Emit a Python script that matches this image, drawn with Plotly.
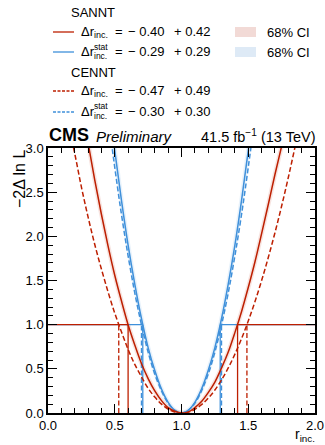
import plotly.graph_objects as go

# ---------------- data ----------------
x_sannt = [0.25, 0.30, 0.35, 0.40, 0.45, 0.50, 0.55, 0.60, 0.65, 0.70, 0.75, 0.80, 0.85, 0.90, 0.95, 1.00,
           1.05, 1.10, 1.15, 1.20, 1.25, 1.30, 1.35, 1.40, 1.45, 1.50, 1.55, 1.60, 1.65, 1.70, 1.75, 1.80]
y_sannt = [3.52, 3.06, 2.64, 2.25, 1.89, 1.56, 1.27, 1.00, 0.77, 0.56, 0.39, 0.25, 0.14, 0.06, 0.02, 0.00,
           0.01, 0.06, 0.13, 0.23, 0.35, 0.51, 0.69, 0.91, 1.15, 1.42, 1.71, 2.03, 2.36, 2.70, 3.02, 3.35]

x_sannt_stat = [0.40, 0.45, 0.50, 0.55, 0.60, 0.65, 0.70, 0.75, 0.80, 0.85, 0.90, 0.95, 1.00,
                1.05, 1.10, 1.15, 1.20, 1.25, 1.30, 1.35, 1.40, 1.45, 1.50, 1.55, 1.60]
y_sannt_stat = [4.28, 3.60, 2.97, 2.41, 1.90, 1.46, 1.07, 0.74, 0.48, 0.27, 0.12, 0.03, 0.00,
                0.03, 0.12, 0.27, 0.48, 0.74, 1.07, 1.46, 1.90, 2.41, 2.97, 3.60, 4.28]

x_cennt = [0.10, 0.15, 0.20, 0.25, 0.30, 0.35, 0.40, 0.45, 0.50, 0.55, 0.60, 0.65, 0.70, 0.75, 0.80, 0.85, 0.90, 0.95, 1.00,
           1.05, 1.10, 1.15, 1.20, 1.25, 1.30, 1.35, 1.40, 1.45, 1.50, 1.55, 1.60, 1.65, 1.70, 1.75, 1.80, 1.85, 1.90]
y_cennt = [3.67, 3.29, 2.94, 2.56, 2.22, 1.91, 1.63, 1.37, 1.13, 0.92, 0.72, 0.55, 0.41, 0.28, 0.18, 0.10, 0.045, 0.011, 0.00,
           0.010, 0.042, 0.094, 0.167, 0.260, 0.375, 0.510, 0.666, 0.843, 1.041, 1.260, 1.499, 1.760, 2.041, 2.343, 2.666, 3.01, 3.37]

x_cennt_stat = [0.40, 0.45, 0.50, 0.55, 0.60, 0.65, 0.70, 0.75, 0.80, 0.85, 0.90, 0.95, 1.00,
                1.05, 1.10, 1.15, 1.20, 1.25, 1.30, 1.35, 1.40, 1.45, 1.50, 1.55, 1.60]
y_cennt_stat = [4.00, 3.36, 2.78, 2.25, 1.78, 1.36, 1.00, 0.69, 0.44, 0.25, 0.11, 0.03, 0.00,
                0.03, 0.11, 0.25, 0.44, 0.69, 1.00, 1.36, 1.78, 2.25, 2.78, 3.36, 4.00]

# 1-sigma crossing points (lower, upper)
cross_sannt = [0.60, 1.42]
cross_sannt_stat = [0.71, 1.29]
cross_cennt = [0.53, 1.49]
cross_cennt_stat = [0.70, 1.30]

legend_groups = ["SANNT", "CENNT"]
legend_lo = ["\u2212 0.40", "\u2212 0.29", "\u2212 0.47", "\u2212 0.30"]
legend_hi = ["+ 0.42", "+ 0.29", "+ 0.49", "+ 0.30"]

x_range = [0.0, 2.0]
y_range = [0.0, 3.0]
y_level = 1.0

RED = "#bd1f01"
BLUE = "#3f90da"
RED_BAND = "rgba(189,31,1,0.12)"
BLUE_BAND = "rgba(63,144,218,0.12)"
FONT = "Liberation Sans, Arial, sans-serif"
DASH = "5px,2.5px"

W, H = 325, 445
ML, MR, MT, MB = 48, 10, 148, 32
PW, PH = W - ML - MR, H - MT - MB


def px(x):
    return (x - ML) / PW


def py(y):
    return (H - MB - y) / PH


fig = go.Figure()

# CI bands (halo around the solid curves)
fig.add_trace(go.Scatter(x=x_sannt_stat, y=y_sannt_stat, mode="lines", line=dict(color=BLUE_BAND, width=4.5, shape="spline"),
                         showlegend=False, hoverinfo="skip"))
fig.add_trace(go.Scatter(x=x_sannt, y=y_sannt, mode="lines", line=dict(color=RED_BAND, width=4.5, shape="spline"),
                         showlegend=False, hoverinfo="skip"))

# horizontal line at 1 (blue first, red on top)
for lo, hi, col in [(cross_sannt_stat[0], cross_sannt_stat[1], BLUE), (cross_sannt[0], cross_sannt[1], RED)]:
    fig.add_trace(go.Scatter(x=[x_range[0], lo], y=[y_level, y_level], mode="lines", line=dict(color=col, width=1.3),
                             showlegend=False, hoverinfo="skip"))
    fig.add_trace(go.Scatter(x=[hi, x_range[1]], y=[y_level, y_level], mode="lines", line=dict(color=col, width=1.3),
                             showlegend=False, hoverinfo="skip"))

# vertical drop lines
for cr, col, dash in [(cross_cennt_stat, BLUE, DASH), (cross_sannt_stat, BLUE, "solid"),
                      (cross_cennt, RED, DASH), (cross_sannt, RED, "solid")]:
    for c in cr:
        fig.add_trace(go.Scatter(x=[c, c], y=[0, y_level], mode="lines", line=dict(color=col, width=1.3, dash=dash),
                                 showlegend=False, hoverinfo="skip"))

# curves
for xs, ys, col, dash in [(x_cennt_stat, y_cennt_stat, BLUE, DASH), (x_sannt_stat, y_sannt_stat, BLUE, "solid"),
                          (x_cennt, y_cennt, RED, DASH), (x_sannt, y_sannt, RED, "solid")]:
    fig.add_trace(go.Scatter(x=xs, y=ys, mode="lines", line=dict(color=col, width=1.5, dash=dash, shape="spline"),
                             showlegend=False))

ann = []
shapes = []


def text(x, y, t, size=13, xa="left", ya="middle", **kw):
    ann.append(dict(x=px(x), y=py(y), xref="paper", yref="paper", text=t, showarrow=False, xanchor=xa, yanchor=ya,
                    font=dict(family=FONT, size=size, color="black"), borderpad=0, **kw))


# title
text(48, 146, "<b>CMS</b>", size=18, ya="bottom")
text(95, 146, "<i>Preliminary</i>", size=15, ya="bottom")
text(316, 146, "41.5 fb<sup>\u22121</sup> (13 TeV)", size=14.5, xa="right", ya="bottom")

# axis titles
text(19, 149, "\u22122\u0394 ln L", size=16, xa="center", ya="top", textangle=-90)
text(316, 435, "r<sub>inc.</sub>", size=14, xa="right")

# legend
rows_y = [32, 52, 91, 112]
styles = [(RED, "solid"), (BLUE, "solid"), (RED, "dash"), (BLUE, "dash")]
text(70, 13, legend_groups[0])
text(70, 72, legend_groups[1])
for i, yy in enumerate(rows_y):
    col, dash = styles[i]
    shapes.append(dict(type="line", xref="paper", yref="paper", x0=px(53), x1=px(74), y0=py(yy), y1=py(yy),
                       line=dict(color=col, width=1.3, dash="3px,1.5px" if dash == "dash" else "solid")))
    text(80, yy - 1, "\u0394r", size=13)
    if i % 2 == 0:
        text(93, yy + 3, "inc.", size=9)
    else:
        text(93, yy - 5.5, "stat", size=8.5)
        text(93, yy + 4, "inc.", size=8.5)
    text(114, yy - 1, "=", size=13)
    text(127, yy - 1, legend_lo[i], size=13)
    text(173, yy - 1, legend_hi[i], size=13)

for yy, band in [(32, "rgba(242,218,214,1)"), (52, "rgba(222,234,246,1)")]:
    shapes.append(dict(type="rect", xref="paper", yref="paper", x0=px(235), x1=px(256), y0=py(yy - 5), y1=py(yy + 5),
                       line=dict(width=0), fillcolor=band))
    text(266, yy, "68% CI", size=13)

axis_common = dict(showgrid=False, zeroline=False, showline=True, linecolor="black", linewidth=1.5, mirror="allticks",
                   ticks="inside", ticklen=9, tickwidth=1, tickcolor="black", tickformat=".1f", dtick=0.5,
                   automargin=False,
                   tickfont=dict(family=FONT, size=13, color="black"),
                   minor=dict(ticks="inside", ticklen=5, tickwidth=1, tickcolor="black", dtick=0.1))

fig.update_layout(
    width=W, height=H, margin=dict(l=ML, r=MR, t=MT, b=MB, autoexpand=False),
    paper_bgcolor="white", plot_bgcolor="white",
    xaxis=dict(range=x_range, **axis_common),
    yaxis=dict(range=y_range, **axis_common),
    annotations=ann, shapes=shapes, showlegend=False,
    font=dict(family=FONT, color="black"),
)

fig.write_html("out.html", config={"displayModeBar": False},
               post_script="document.body.style.margin='0';document.body.style.overflow='hidden';")
